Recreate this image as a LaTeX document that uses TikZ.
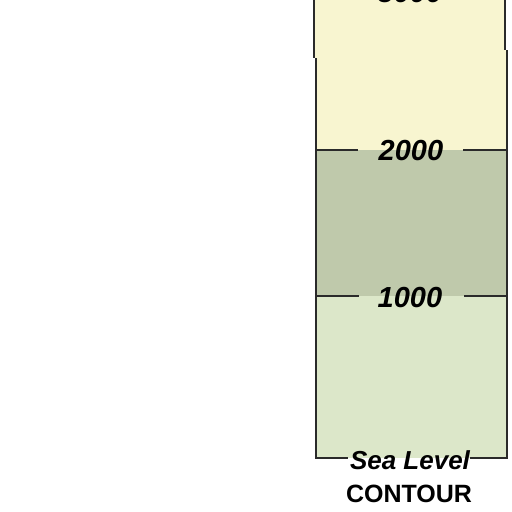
\documentclass[tikz,border=0pt]{standalone}
\usepackage{fontspec}
\setmainfont{Liberation Sans}
\definecolor{bandA}{HTML}{F8F5D0}
\definecolor{bandB}{HTML}{BFC9AB}
\definecolor{bandC}{HTML}{DCE7C9}
\definecolor{edge}{HTML}{2A2A2A}
\tikzset{
  border/.style={draw=edge, line width=2pt},
  num/.style={font=\fontsize{29}{31}\selectfont\bfseries\itshape, text=black, inner sep=0pt},
  sea/.style={font=\fontsize{26}{28}\selectfont\bfseries\itshape, text=black, inner sep=0pt},
  captext/.style={font=\fontsize{25}{27}\selectfont\bfseries, text=black, inner sep=0pt}
}
\begin{document}
\begin{tikzpicture}[x=1pt,y=-1pt]
\useasboundingbox (0,0) rectangle (512,512);
\clip (0,0) rectangle (512,512);
\fill[white] (0,0) rectangle (512,512);
% bands
\fill[bandA] (315,-5) rectangle (506,150);
\fill[bandB] (315,150) rectangle (507,296);
\fill[bandC] (315,296) rectangle (507,458);
% border verticals
\coordinate (l0) at (314,-2);
\coordinate (l1) at (314,58);
\coordinate (l2) at (316,58);
\coordinate (l3) at (316,459);
\coordinate (r0) at (505,-2);
\coordinate (r1) at (505,50);
\coordinate (r2) at (507,50);
\coordinate (r3) at (507,459);
\draw[border] (l0) -- (l1);
\draw[border] (l2) -- (l3);
\draw[border] (r0) -- (r1);
\draw[border] (r2) -- (r3);
% labels
\node[num] (t3000) at (410,-7) {3000};
\node[num] (t2000) at (411,151) {2000};
\node[num] (t1000) at (410,298) {1000};
\node[sea] (tsea) at (410,460) {Sea Level};
\node[captext] (tcont) at (409,494) {CONTOUR};
% contour line ends
\coordinate (a1) at (358,150); \coordinate (a2) at (463,150);
\coordinate (b1) at (359,296); \coordinate (b2) at (464,296);
\coordinate (c1) at (348,458); \coordinate (c2) at (470,458);
\draw[border] (l2 |- a1) -- (a1);
\draw[border] (a2) -- (r2 |- a2);
\draw[border] (l2 |- b1) -- (b1);
\draw[border] (b2) -- (r2 |- b2);
\draw[border] (l2 |- c1) -- (c1);
\draw[border] (c2) -- (r2 |- c2);
\end{tikzpicture}
\end{document}
